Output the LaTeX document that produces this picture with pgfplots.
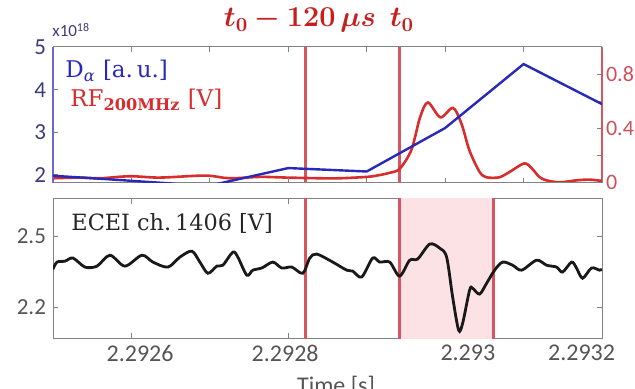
\documentclass[border=0pt]{standalone}
\usepackage{fontspec}
\usepackage{amsmath}
\usepackage{bm}
\usepackage{pgfplots}
\pgfplotsset{compat=1.18}
\newfontfamily\carlito{Carlito}
\newfontfamily\djs{DejaVu Serif}
\definecolor{dblue}{RGB}{40,40,185}
\definecolor{dred}{RGB}{215,45,45}
\definecolor{vred}{RGB}{215,85,95}
\definecolor{pinkfill}{RGB}{252,226,228}
\definecolor{framegray}{RGB}{130,130,130}
\definecolor{lbl}{RGB}{85,85,85}
\definecolor{lblue}{RGB}{60,60,125}
\definecolor{lred}{RGB}{205,80,90}
\definecolor{tred}{RGB}{200,30,30}
\begin{document}
\begin{tikzpicture}[x=0.5pt,y=-0.5pt]
\path[use as bounding box] (0,0) rectangle (635,389);
\pgfplotsset{
  base/.style={
    scale only axis, width=274.5pt, xmin=0, xmax=700,
    tick label style={font=\carlito\fontsize{11.5}{12}\selectfont},
    major tick length=2.5pt, tick style={framegray, line width=0.5pt},
    axis line style={framegray, line width=0.5pt},
    every non boxed y axis/.append style={y axis line style={-}, ytick align=inside},
    every non boxed x axis/.append style={x axis line style={-}, xtick align=inside},
    tick align=inside,
  },
}
% ---------- top panel, right axis (RF) ----------
\begin{axis}[base, height=68pt, at={(26.5pt,-23.5pt)}, anchor=north west,
  axis y line*=right, hide x axis, ymin=-0.005, ymax=1,
  ytick={0,0.2,0.4,0.6,0.8}, yticklabels={0,,0.4,,0.8},
  y axis line style={vred, line width=0.6pt},
  yticklabel style={lred, xshift=-1.5pt, font=\carlito\fontsize{11}{12}\selectfont}]
\addplot[fill=vred, draw=none, forget plot] coordinates {(320.2,-0.1) (323.8,-0.1) (323.8,1.1) (320.2,1.1)} --cycle;
\addplot[fill=vred, draw=none, forget plot] coordinates {(440.2,-0.1) (443.8,-0.1) (443.8,1.1) (440.2,1.1)} --cycle;
\addplot[dred, line width=1.3pt, smooth, tension=0.5] coordinates {
(0,0.03) (34,0.035) (60,0.03) (98,0.045) (136,0.035) (194,0.05) (225,0.03)
(264,0.04) (298,0.035) (340,0.03) (366,0.03) (400,0.04) (413,0.05) (429,0.07)
(442,0.10) (457,0.24) (468,0.48) (478,0.59) (494,0.48) (510,0.55) (521,0.43)
(531,0.235) (544,0.076) (553,0.037) (569,0.037) (582,0.076) (601,0.14)
(611,0.10) (620,0.04) (629,0.015) (646,0.0) (668,0.015) (684,0.02) (700,0.01)};
\end{axis}
% ---------- top panel, left axis (D alpha) ----------
\begin{axis}[base, height=68pt, at={(26.5pt,-23.5pt)}, anchor=north west,
  axis y line*=left, axis x line*=box, ymin=1.81, ymax=5,
  ytick={2,3,4,5}, yticklabels={2,3,4,5},
  y axis line style={dblue!70, line width=0.6pt},
  yticklabel style={lblue},
  xtick={0,100,...,700}, xticklabels={}]
\addplot[dblue, line width=1.2pt] coordinates {
(0,1.98) (60,1.91) (150,1.80) (175,1.73) (205,1.77) (300,2.16) (400,2.08)
(500,3.10) (600,4.60) (700,3.66)};
\end{axis}
% ---------- bottom panel (ECEI) ----------
\begin{axis}[base, height=69.5pt, at={(26.5pt,-99.5pt)}, anchor=north west,
  ymin=2.07, ymax=2.656, ytick={2.2,2.5}, yticklabels={2.2,2.5},
  yticklabel style={lbl},
  xtick={100,300,500,700}, xticklabels={},
  extra x ticks={111,296,529,674},
  extra x tick labels={2.2926,2.2928,2.293,2.2932},
  extra x tick style={major tick length=0pt, tick label style={lbl, font=\carlito\fontsize{12}{13}\selectfont}}]
\addplot[fill=pinkfill, draw=none, forget plot] coordinates {(442,2.0) (562,2.0) (562,2.7) (442,2.7)} --cycle;
\addplot[fill=vred, draw=none, forget plot] coordinates {(320.2,2.0) (323.8,2.0) (323.8,2.7) (320.2,2.7)} --cycle;
\addplot[fill=vred, draw=none, forget plot] coordinates {(440.2,2.0) (443.8,2.0) (443.8,2.7) (440.2,2.7)} --cycle;
\addplot[fill=vred, draw=none, forget plot] coordinates {(560.2,2.0) (563.8,2.0) (563.8,2.7) (560.2,2.7)} --cycle;
\addplot[black!90, line width=1.4pt, smooth, tension=0.5] coordinates {
(0,2.360) (5.1,2.390) (15.3,2.394) (25.5,2.407) (40.8,2.369) (56.1,2.373)
(72.6,2.419) (91.7,2.373) (113.4,2.419) (127.4,2.390) (146.5,2.369)
(161.8,2.411) (177.1,2.436) (187.3,2.390) (197.5,2.343) (208.9,2.373)
(216.6,2.377) (229.3,2.432) (235.7,2.411) (247.1,2.335) (254.8,2.356)
(266.2,2.365) (280.3,2.390) (291.7,2.365) (304.5,2.369) (318.5,2.343)
(327.4,2.407) (336.3,2.424) (356.7,2.390) (374.5,2.356) (382.2,2.352)
(393.6,2.327) (407.6,2.407) (416.6,2.390) (429.3,2.390) (442.0,2.331)
(454.8,2.398) (465.0,2.403) (480.3,2.466) (493.0,2.449) (501.9,2.411)
(509.6,2.242) (517.2,2.103) (522.3,2.132) (531.2,2.272) (535.0,2.280)
(543.9,2.255) (552.9,2.301) (563.1,2.356) (573.3,2.390) (586.0,2.377)
(597.5,2.356) (616.6,2.398) (629.3,2.377) (642.0,2.369) (649.7,2.348)
(661.2,2.390) (667.5,2.365) (675.2,2.322) (686.6,2.365) (696.8,2.356)
(700,2.360)};
\end{axis}
% ---------- texts ----------
\node[anchor=base, text=tred, inner sep=0pt, font=\fontsize{14}{15}\selectfont] at (300,27) {$\bm{t_0 - 120\,\mu s}$};
\node[anchor=base, text=tred, inner sep=0pt, font=\fontsize{14}{15}\selectfont] at (402,27) {$\bm{t_0}$};
\node[anchor=base west, text=lblue, inner sep=0pt, font=\carlito\fontsize{8.5}{9}\selectfont] at (52,37) {x10\textsuperscript{18}};
\node[anchor=base west, text=dblue, inner sep=0pt, font=\djs\fontsize{11.5}{13}\selectfont] at (65,78) {D\textsubscript{\itshape α} [a.\,u.]};
\node[anchor=base west, text=dred, inner sep=0pt, font=\djs\fontsize{11.5}{13}\selectfont] at (70,107) {RF\textsubscript{\bfseries 200MHz} [V]};
\node[anchor=base west, text=black!85, inner sep=0pt, font=\djs\fontsize{11.2}{13}\selectfont] at (71,230) {ECEI ch.\,1406 [V]};
\node[anchor=north, text=lbl, inner sep=0pt, font=\carlito\fontsize{12}{13}\selectfont] at (336,376) {Time [s]};
\end{tikzpicture}
\end{document}
